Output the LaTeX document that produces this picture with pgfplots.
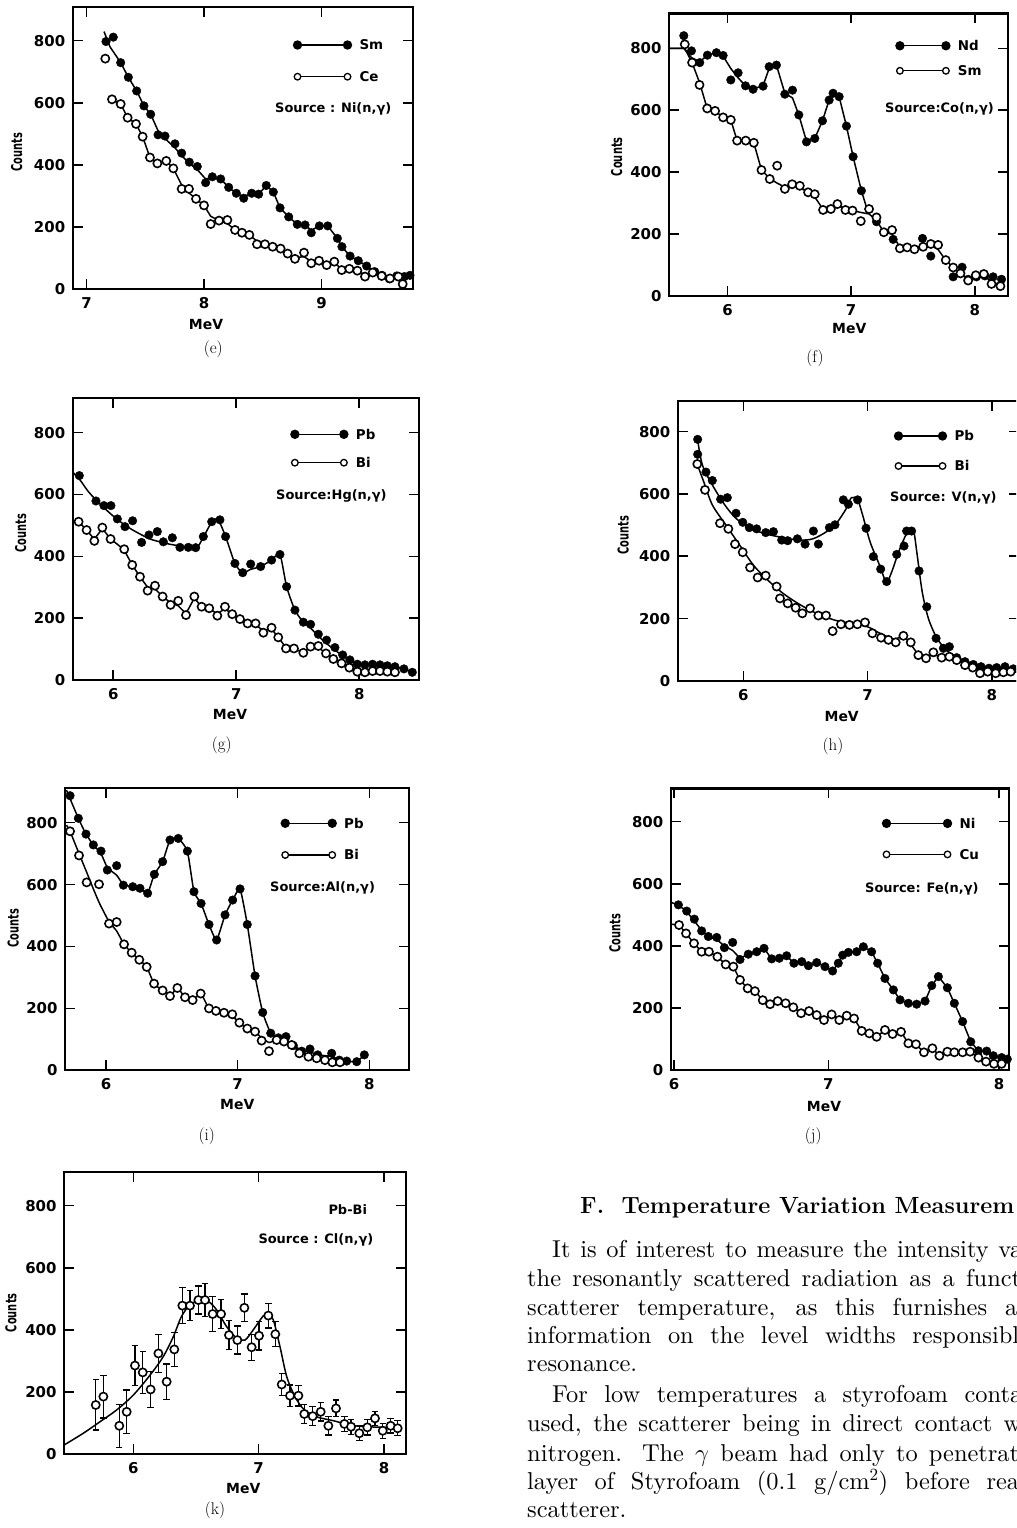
\documentclass[border=0pt]{standalone}
\usepackage{fontspec}
\usepackage{pgfplots}
\pgfplotsset{compat=1.18}
\newfontfamily\pan{DejaVu Sans}
\newfontfamily\pancond{DejaVu Sans}[FakeStretch=0.66]
\newfontfamily\bodyfont{lmroman10-regular.otf}

\tikzset{
  legF/.style={black, line width=1.3bp, mark=*, mark size=4bp},
  legO/.style={black, line width=1.3bp, mark=*, mark size=3.3bp, mark options={fill=white, line width=1.3bp}},
  cnt/.style={rotate=90, font=\fontsize{15}{17}\selectfont\pancond\bfseries},
  mev/.style={font=\fontsize{14}{16}\selectfont\pan\bfseries},
  capt/.style={font=\fontsize{17}{20}\selectfont},
  src/.style={anchor=west, inner sep=0pt, text height=9.5bp, text depth=0bp, font=\fontsize{13}{15}\selectfont\pan\bfseries},
  body/.style={anchor=base west, inner sep=0pt, font=\fontsize{24.5}{29}\selectfont\bodyfont},
}
\pgfplotsset{
  leglen/.initial=50bp,
  legend image code/.code={\draw[#1] plot coordinates {(0bp,0bp) (\pgfkeysvalueof{/pgfplots/leglen},0bp)};},
  panel/.style={
    scale only axis, anchor=south west, ymin=0,
    ytick={0,200,400,600,800},
    axis line style={line width=2.2bp},
    every tick/.style={black, line width=1.6bp},
    major tick length=10bp, tick align=inside,
    /pgf/number format/assume math mode=true,
    tick label style={font=\fontsize{15}{17}\selectfont\pan\bfseries},
    yticklabel style={xshift=-4bp},
    xticklabel style={yshift=-5bp},
    legend style={draw=none, fill=none, inner sep=0pt, outer sep=0pt, anchor=north west,
      cells={anchor=west}, nodes={inner sep=0pt, text height=9.5bp, text depth=0bp},
      font=\fontsize{13.5}{15}\selectfont\pan\bfseries, column sep=8bp},
  },
  ptF/.style={only marks, mark=*, mark size=4.3bp, black, forget plot},
  ptO/.style={only marks, mark=*, mark size=4.1bp, black, mark options={fill=white, line width=1.6bp}, forget plot},
  crv/.style={black, no marks, line width=1.5bp, forget plot},
}

\begin{document}
\begin{tikzpicture}[x=1bp,y=1bp]
\path[use as bounding box] (0,0) rectangle (1016,-1528);
\clip (0,0) rectangle (1016,-1528);

% (e)
\begin{axis}[panel, at={(72.7bp,-289.33bp)}, width=340.6bp, height=282bp,
  xmin=6.8826, xmax=9.7813, ymax=907, xtick={7,8,9}, leglen=50bp,
  legend style={at={(0.6483,0.8832)}, row sep=22.2bp}]
\addplot[crv] coordinates {(7.149,829)(7.20,780)(7.291,729)(7.356,682)(7.427,638)(7.489,590)(7.546,563)(7.609,510)(7.668,485)(7.753,455)(7.81,430)(7.875,405)(7.943,385)(8.014,355)(8.071,360)(8.142,355)(8.21,328)(8.275,309)(8.338,298)(8.406,309)(8.465,306)(8.53,334)(8.59,313)(8.647,262)(8.721,233)(8.794,209)(8.86,207)(8.913,190)(8.982,204)(9.053,204)(9.135,164)(9.174,137)(9.243,107)(9.313,92)(9.384,75)(9.453,57)(9.515,45)(9.577,38)(9.64,41)(9.705,41)(9.781,45)};
\addplot[crv] coordinates {(7.217,611)(7.291,596)(7.35,552)(7.421,532)(7.478,491)(7.54,424)(7.603,405)(7.679,413)(7.739,389)(7.81,335)(7.872,310)(7.932,291)(8.0,270)(8.057,235)(8.128,221)(8.199,212)(8.264,191)(8.323,182)(8.386,175)(8.451,155)(8.519,145)(8.584,137)(8.652,131)(8.712,115)(8.774,102)(8.851,105)(8.913,90)(8.979,88)(9.044,80)(9.109,85)(9.172,66)(9.237,64)(9.305,58)(9.37,48)(9.436,50)(9.512,43)(9.583,38)(9.654,36)(9.72,25)};
\addplot[ptF] coordinates {(7.166,797)(7.228,811)(7.291,729)(7.356,682)(7.427,638)(7.489,590)(7.546,563)(7.609,497)(7.668,493)(7.753,468)(7.810,438)(7.875,409)(7.943,395)(8.014,343)(8.071,362)(8.142,355)(8.210,328)(8.275,309)(8.338,293)(8.406,309)(8.465,306)(8.530,334)(8.590,313)(8.647,262)(8.721,233)(8.794,209)(8.860,207)(8.913,182)(8.982,204)(9.053,204)(9.135,164)(9.174,137)(9.243,107)(9.313,92)(9.384,75)(9.453,57)(9.515,45)(9.577,34)(9.640,43)(9.705,41)(9.753,45)};
\addplot[ptO] coordinates {(7.160,742)(7.217,611)(7.291,596)(7.350,552)(7.421,532)(7.478,491)(7.540,424)(7.603,405)(7.679,413)(7.739,389)(7.810,323)(7.872,323)(7.932,291)(8.000,270)(8.057,210)(8.128,221)(8.199,223)(8.264,191)(8.323,182)(8.386,175)(8.451,145)(8.519,145)(8.584,137)(8.652,131)(8.712,115)(8.774,98)(8.851,118)(8.913,84)(8.979,92)(9.044,78)(9.109,89)(9.172,62)(9.237,66)(9.305,60)(9.370,41)(9.436,54)(9.512,43)(9.583,35)(9.654,41)(9.691,17)};
\addlegendimage{legF}\addlegendentry{Sm}
\addlegendimage{legO}\addlegendentry{Ce}
\end{axis}

% (f)
\begin{axis}[panel, at={(669bp,-296bp)}, width=338.7bp, height=282.6bp,
  xmin=5.5275, xmax=8.266, ymax=913, xtick={6,7,8}, leglen=46bp,
  legend style={at={(0.6699,0.9022)}, row sep=15.5bp}]
\addplot[crv] coordinates {(5.527,800)(5.647,800)(5.709,770)(5.776,757)(5.838,778)(5.911,786)(5.965,775)(6.027,735)(6.086,705)(6.146,679)(6.207,668)(6.288,680)(6.337,735)(6.396,746)(6.464,655)(6.526,640)(6.577,585)(6.639,500)(6.706,509)(6.768,566)(6.822,633)(6.854,655)(6.903,644)(6.962,549)(7.016,450)(7.083,340)(7.14,266)};
\addplot[crv] coordinates {(5.527,800)(5.655,800)(5.714,754)(5.774,690)(5.836,606)(5.9,598)(5.965,577)(6.027,569)(6.078,502)(6.148,502)(6.213,495)(6.275,407)(6.342,380)(6.40,365)(6.464,352)(6.523,356)(6.585,350)(6.652,335)(6.706,320)(6.773,280)(6.836,281)(6.889,297)(6.954,278)(7.011,276)(7.078,270)(7.145,265)(7.205,245)(7.264,206)(7.331,200)(7.394,158)(7.453,157)(7.512,151)(7.582,165)(7.644,165)(7.703,150)(7.765,116)(7.825,92)(7.884,73)(7.946,55)(8.008,60)(8.073,62)(8.135,50)(8.207,32)};
\addplot[ptF] coordinates {(5.647,841)(5.709,792)(5.776,754)(5.838,778)(5.911,786)(5.965,777)(6.027,698)(6.086,721)(6.146,679)(6.207,668)(6.288,678)(6.337,741)(6.396,746)(6.464,652)(6.526,665)(6.577,585)(6.639,498)(6.706,509)(6.768,566)(6.822,633)(6.854,655)(6.903,644)(6.962,549)(7.016,450)(7.083,340)(7.205,240)(7.34,183)(7.577,186)(7.644,129)(7.825,62)(7.897,93)(7.946,54)(8.013,62)(8.081,65)(8.148,62)(8.216,54)};
\addplot[ptO] coordinates {(5.655,813)(5.714,754)(5.774,682)(5.836,606)(5.9,598)(5.965,577)(6.027,569)(6.078,502)(6.148,502)(6.213,495)(6.275,407)(6.342,378)(6.402,421)(6.464,346)(6.523,361)(6.585,356)(6.652,335)(6.706,329)(6.773,278)(6.836,281)(6.889,297)(6.954,278)(7.011,276)(7.078,242)(7.145,281)(7.205,254)(7.264,206)(7.331,213)(7.394,154)(7.453,157)(7.512,151)(7.582,159)(7.644,168)(7.703,165)(7.765,116)(7.825,92)(7.884,73)(7.946,50)(8.008,67)(8.073,71)(8.135,39)(8.207,32)};
\addlegendimage{legF}\addlegendentry{Nd}
\addlegendimage{legO}\addlegendentry{Sm}
\end{axis}

% (g)
\begin{axis}[panel, at={(72.7bp,-680bp)}, width=346.6bp, height=282.3bp,
  xmin=5.670, xmax=8.488, ymax=913, xtick={6,7,8}, leglen=49bp,
  legend style={at={(0.6295,0.8872)}, row sep=18.9bp}]
\addplot[crv, smooth, tension=0.4] coordinates {(5.670,672)(5.724,650)(5.80,608)(5.90,566)(6.03,520)(6.15,487)(6.30,456)(6.45,440)(6.60,430)(6.68,428)(6.732,462)(6.80,510)(6.85,520)(6.913,464)(6.989,377)(7.052,347)(7.117,358)(7.198,367)(7.287,388)(7.355,406)(7.409,302)(7.477,226)(7.545,187)(7.604,168)(7.667,142)(7.734,118)(7.802,97)(7.865,78)(7.924,64)(7.984,54)(8.05,50)(8.15,47)(8.25,44)(8.363,36)(8.431,25)};
\addplot[crv] coordinates {(5.67,515)(5.718,512)(5.783,485)(5.846,455)(5.911,490)(5.978,456)(6.03,440)(6.089,420)(6.154,372)(6.217,334)(6.279,300)(6.339,295)(6.401,270)(6.466,250)(6.528,240)(6.591,215)(6.659,265)(6.718,237)(6.78,230)(6.846,215)(6.908,230)(6.967,213)(7.03,197)(7.092,183)(7.157,178)(7.22,160)(7.287,165)(7.341,138)(7.404,105)(7.469,100)(7.545,90)(7.604,105)(7.667,105)(7.729,86)(7.789,68)(7.856,54)(7.919,42)(7.984,30)(8.046,28)(8.108,28)(8.168,28)(8.228,27)(8.29,25)};
\addplot[ptF] coordinates {(5.724,661)(5.859,579)(5.924,564)(5.981,564)(6.033,521)(6.095,496)(6.157,515)(6.23,445)(6.29,469)(6.358,480)(6.407,447)(6.48,460)(6.542,429)(6.61,429)(6.67,428)(6.732,464)(6.8,512)(6.867,518)(6.913,464)(6.989,377)(7.052,347)(7.117,375)(7.198,367)(7.287,388)(7.355,406)(7.409,302)(7.477,226)(7.545,187)(7.604,180)(7.667,148)(7.734,129)(7.802,105)(7.865,81)(7.924,65)(7.984,51)(8.046,49)(8.108,51)(8.168,49)(8.228,46)(8.29,43)(8.363,36)(8.431,25)};
\addplot[ptO] coordinates {(5.718,512)(5.783,485)(5.846,450)(5.911,493)(5.978,456)(6.089,423)(6.154,372)(6.217,334)(6.279,289)(6.339,305)(6.401,270)(6.466,243)(6.528,256)(6.591,210)(6.659,270)(6.718,237)(6.78,232)(6.846,208)(6.908,237)(6.967,213)(7.03,197)(7.092,183)(7.157,183)(7.22,153)(7.287,169)(7.341,138)(7.404,102)(7.469,102)(7.545,88)(7.604,108)(7.667,110)(7.729,86)(7.789,68)(7.856,54)(7.919,40)(7.984,27)(8.046,25)(8.108,29)(8.168,29)(8.228,27)(8.29,25)};
\addlegendimage{legF}\addlegendentry{Pb}
\addlegendimage{legO}\addlegendentry{Bi}
\end{axis}

% (h)
\begin{axis}[panel, at={(677.7bp,-681bp)}, width=341.3bp, height=280bp,
  xmin=5.4714, xmax=8.220, ymax=898, xtick={6,7,8}, leglen=44bp,
  legend style={at={(0.6352,0.892)}, row sep=20.5bp}]
\addplot[crv, smooth, tension=0.5] coordinates {(5.632,773)(5.67,693)(5.75,629)(5.85,565)(5.94,522)(6.05,490)(6.19,471)(6.32,460)(6.45,452)(6.56,456)(6.67,479)(6.75,506)(6.83,554)(6.87,588)(6.92,581)(6.96,533)(7.02,447)(7.09,378)(7.15,319)(7.19,345)(7.26,424)(7.33,484)(7.37,484)(7.40,404)(7.44,287)(7.49,201)(7.56,137)(7.65,94)(7.80,62)(7.93,46)(8.07,41)(8.22,38)};
\addplot[crv, smooth, tension=0.5] coordinates {(5.62,704)(5.68,640)(5.75,565)(5.86,500)(5.97,436)(6.08,372)(6.19,326)(6.32,281)(6.46,244)(6.59,217)(6.73,196)(6.86,185)(7.0,174)(7.1,153)(7.21,135)(7.29,142)(7.35,116)(7.42,83)(7.50,81)(7.58,81)(7.69,71)(7.80,51)(7.91,35)(8.07,30)(8.22,28)};
\addplot[ptF] coordinates {(5.632,775)(5.632,727)(5.699,670)(5.75,643)(5.817,583)(5.871,588)(5.941,538)(5.995,509)(6.048,492)(6.107,488)(6.18,476)(6.242,479)(6.309,452)(6.357,450)(6.435,456)(6.497,439)(6.564,481)(6.604,439)(6.693,492)(6.738,501)(6.805,581)(6.846,567)(6.92,581)(6.988,490)(7.047,399)(7.106,359)(7.154,319)(7.235,406)(7.294,433)(7.315,481)(7.355,481)(7.415,353)(7.477,238)(7.552,137)(7.611,105)(7.659,110)(7.718,75)(7.785,62)(7.852,53)(7.914,46)(7.978,41)(8.04,43)(8.107,46)(8.174,39)};
\addplot[ptO] coordinates {(5.629,696)(5.691,613)(5.812,506)(5.879,488)(5.933,439)(5.995,413)(6.054,364)(6.115,332)(6.18,338)(6.268,303)(6.295,265)(6.357,249)(6.421,235)(6.475,217)(6.537,233)(6.604,210)(6.666,210)(6.719,160)(6.786,182)(6.854,180)(6.918,182)(6.98,188)(7.039,153)(7.109,139)(7.168,132)(7.227,124)(7.289,145)(7.348,124)(7.409,83)(7.471,73)(7.53,92)(7.597,75)(7.659,78)(7.718,67)(7.785,51)(7.847,43)(7.906,25)(7.968,30)(8.032,25)(8.094,28)(8.153,30)};
\addlegendimage{legF}\addlegendentry{Pb}
\addlegendimage{legO}\addlegendentry{Bi}
\end{axis}

% (i)
\begin{axis}[panel, at={(65bp,-1070.33bp)}, width=344.3bp, height=282.7bp,
  xmin=5.6886, xmax=8.3035, ymax=913, xtick={6,7,8}, leglen=47bp,
  legend style={at={(0.628,0.8908)}, row sep=22.2bp}]
\addplot[crv, smooth, tension=0.3] coordinates {(5.70,905)(5.79,814)(5.848,763)(5.904,728)(5.962,700)(6.01,655)(6.081,630)(6.132,600)(6.203,593)(6.258,588)(6.316,572)(6.367,633)(6.43,674)(6.486,744)(6.549,749)(6.618,708)(6.668,577)(6.722,539)(6.782,471)(6.84,421)(6.904,502)(6.962,550)(7.018,586)(7.073,471)(7.132,305)(7.19,187)(7.251,120)(7.309,105)(7.367,100)(7.423,80)(7.486,65)(7.549,60)(7.608,50)(7.714,45)(7.772,33)(7.828,30)(7.904,28)(7.962,50)};
\addplot[crv, smooth, tension=0.3] coordinates {(5.70,792)(5.727,772)(5.795,700)(5.853,640)(5.90,590)(5.95,540)(6.023,480)(6.081,450)(6.137,407)(6.195,380)(6.253,357)(6.309,334)(6.365,280)(6.43,258)(6.486,240)(6.542,266)(6.6,236)(6.658,227)(6.719,248)(6.782,200)(6.835,192)(6.896,186)(6.959,175)(7.013,154)(7.073,135)(7.132,125)(7.182,105)(7.238,90)(7.296,98)(7.352,93)(7.41,82)(7.468,60)(7.537,44)(7.6,39)(7.663,33)(7.719,30)(7.777,28)};
\addplot[ptF] coordinates {(5.727,887)(5.79,814)(5.848,763)(5.904,728)(5.962,708)(6.01,647)(6.081,661)(6.132,598)(6.203,593)(6.258,588)(6.316,572)(6.367,633)(6.43,674)(6.486,744)(6.549,749)(6.618,708)(6.668,577)(6.722,539)(6.782,471)(6.84,421)(6.904,502)(6.962,550)(7.018,586)(7.073,471)(7.132,305)(7.19,187)(7.251,120)(7.309,105)(7.367,109)(7.423,80)(7.486,62)(7.549,69)(7.608,50)(7.714,55)(7.772,33)(7.828,30)(7.904,28)(7.962,50)};
\addplot[ptO] coordinates {(5.727,772)(5.795,694)(5.853,607)(5.947,601)(6.023,474)(6.081,479)(6.137,407)(6.195,380)(6.253,357)(6.309,334)(6.365,280)(6.43,258)(6.486,240)(6.542,266)(6.6,236)(6.658,227)(6.719,248)(6.782,200)(6.835,192)(6.896,186)(6.959,181)(7.013,154)(7.073,135)(7.132,125)(7.182,96)(7.238,62)(7.296,98)(7.352,93)(7.41,82)(7.468,55)(7.537,44)(7.6,39)(7.663,33)(7.719,26)(7.777,26)};
\addlegendimage{legF}\addlegendentry{Pb}
\addlegendimage{legO}\addlegendentry{Bi}
\end{axis}

% (j)
\begin{axis}[panel, at={(670.7bp,-1070bp)}, width=338.6bp, height=281.6bp,
  xmin=5.9797, xmax=8.0634, ymax=907, xtick={6,6.95,8}, xticklabels={6,7,8}, leglen=61bp,
  legend style={at={(0.6255,0.8926)}, row sep=21.5bp}]
\addplot[crv] coordinates {(5.98,540)(6.027,532)(6.078,510)(6.125,480)(6.17,450)(6.211,430)(6.263,420)(6.31,400)(6.361,385)(6.406,360)(6.457,373)(6.509,381)(6.554,392)(6.601,358)(6.648,360)(6.693,368)(6.738,344)(6.786,349)(6.827,336)(6.878,346)(6.929,333)(6.976,319)(7.011,344)(7.038,370)(7.073,379)(7.124,381)(7.165,397)(7.216,381)(7.253,344)(7.298,295)(7.35,258)(7.391,226)(7.442,215)(7.493,212)(7.545,222)(7.586,272)(7.627,301)(7.682,265)(7.725,215)(7.776,156)(7.826,91)(7.873,62)(7.924,61)(7.965,46)(8.016,40)(8.063,35)};
\addplot[crv] coordinates {(5.98,470)(6.031,467)(6.074,440)(6.123,408)(6.17,381)(6.215,381)(6.267,365)(6.318,340)(6.365,333)(6.406,290)(6.453,263)(6.498,254)(6.546,225)(6.591,212)(6.638,222)(6.687,215)(6.734,202)(6.782,183)(6.831,190)(6.878,177)(6.923,161)(6.97,179)(7.017,161)(7.063,175)(7.108,166)(7.155,126)(7.202,118)(7.247,107)(7.298,129)(7.345,116)(7.397,123)(7.442,86)(7.489,83)(7.538,57)(7.59,70)(7.633,46)(7.682,59)(7.725,57)(7.776,57)(7.822,59)(7.873,40)(7.92,27)(7.969,20)(8.016,20)};
\addplot[ptF] coordinates {(6.027,532)(6.078,512)(6.125,486)(6.17,448)(6.211,430)(6.263,427)(6.31,394)(6.361,411)(6.406,356)(6.457,373)(6.509,381)(6.554,392)(6.601,358)(6.648,360)(6.693,368)(6.738,344)(6.786,349)(6.827,336)(6.878,346)(6.929,333)(6.976,319)(7.011,344)(7.038,370)(7.073,379)(7.124,381)(7.165,397)(7.216,381)(7.253,344)(7.298,295)(7.35,258)(7.391,226)(7.442,215)(7.493,212)(7.545,222)(7.586,272)(7.627,301)(7.682,265)(7.725,215)(7.776,156)(7.826,91)(7.873,62)(7.924,61)(7.965,46)(8.016,40)(8.051,35)};
\addplot[ptO] coordinates {(6.031,467)(6.074,440)(6.123,408)(6.17,381)(6.215,381)(6.267,365)(6.318,340)(6.365,333)(6.406,290)(6.453,263)(6.498,254)(6.546,225)(6.591,212)(6.638,222)(6.687,215)(6.734,202)(6.782,183)(6.831,190)(6.878,177)(6.923,161)(6.97,179)(7.017,161)(7.063,175)(7.108,166)(7.155,126)(7.202,118)(7.247,107)(7.298,129)(7.345,116)(7.397,123)(7.442,86)(7.489,83)(7.538,57)(7.59,70)(7.633,46)(7.682,59)(7.725,57)(7.776,57)(7.822,59)(7.873,40)(7.92,27)(7.969,20)(8.016,20)};
\addlegendimage{legF}\addlegendentry{Ni}
\addlegendimage{legO}\addlegendentry{Cu}
\end{axis}

% (k)
\begin{axis}[panel, at={(64bp,-1454bp)}, width=342bp, height=282.2bp,
  xmin=5.4468, xmax=8.1756, ymax=909, xtick={6,7,8}]
\addplot[crv, smooth, tension=0.5] coordinates {(5.447,29)(5.601,67)(5.734,104)(5.867,142)(6.0,190)(6.133,254)(6.239,314)(6.319,378)(6.383,442)(6.45,480)(6.53,496)(6.6,491)(6.665,464)(6.745,410)(6.825,373)(6.89,367)(6.957,400)(7.037,445)(7.077,448)(7.117,432)(7.17,346)(7.224,249)(7.29,185)(7.36,144)(7.46,120)(7.6,107)(7.73,93)(7.86,88)(7.995,86)(8.115,83)};
\addplot[ptO, error bars/.cd, y dir=both, y explicit,
  error bar style={line width=1.3bp, black},
  error mark options={rotate=90, mark size=3.2bp, line width=1.3bp, black}]
 coordinates {(5.700,158) +- (0,81) (5.761,185) +- (0,69) (5.888,91) +- (0,69) (5.947,136) +- (0,70)
 (6.013,285) +- (0,64) (6.075,263) +- (0,68) (6.138,208) +- (0,57) (6.200,324) +- (0,62)
 (6.266,233) +- (0,57) (6.327,337) +- (0,54) (6.391,478) +- (0,58) (6.452,478) +- (0,48)
 (6.519,496) +- (0,45) (6.572,496) +- (0,54) (6.633,451) +- (0,56) (6.700,451) +- (0,47)
 (6.763,383) +- (0,46) (6.830,367) +- (0,45) (6.886,471) +- (0,44) (6.944,344) +- (0,42)
 (7.003,381) +- (0,46) (7.077,446) +- (0,40) (7.133,386) +- (0,40) (7.184,224) +- (0,35)
 (7.250,188) +- (0,34) (7.317,188) +- (0,33) (7.364,129) +- (0,30) (7.431,122) +- (0,30)
 (7.495,136) +- (0,30) (7.556,91) +- (0,30) (7.617,147) +- (0,27) (7.684,97) +- (0,25)
 (7.737,88) +- (0,24) (7.803,67) +- (0,24) (7.867,86) +- (0,25) (7.928,115) +- (0,22)
 (7.990,75) +- (0,24) (8.053,91) +- (0,23) (8.109,83) +- (0,24)};
\end{axis}

% axis titles, sources and captions
\node[cnt] at (16.7,-152) {Counts};
\node[cnt] at (616.7,-156.7) {Counts};
\node[cnt] at (20.7,-533) {Counts};
\node[cnt] at (623.3,-535) {Counts};
\node[cnt] at (13.3,-928) {Counts};
\node[cnt] at (615,-933) {Counts};
\node[cnt] at (11,-1312.7) {Counts};
\node[mev] at (206,-325) {MeV};
\node[mev] at (849.3,-328.3) {MeV};
\node[mev] at (230,-715) {MeV};
\node[mev] at (841.7,-716.7) {MeV};
\node[mev] at (237.3,-1105) {MeV};
\node[mev] at (824,-1106.7) {MeV};
\node[mev] at (243.3,-1488.3) {MeV};
\node[src] at (275,-107.7) {Source : Ni(n,γ)};
\node[src] at (885,-108) {Source:Co(n,γ)};
\node[src] at (276,-495) {Source:Hg(n,γ)};
\node[src] at (890,-497) {Source: V(n,γ)};
\node[src] at (270,-887) {Source:Al(n,γ)};
\node[src] at (865,-888) {Source: Fe(n,γ)};
\node[src] at (328.3,-1209.3) {Pb-Bi};
\node[src] at (258.3,-1239) {Source : Cl(n,γ)};
\node[capt] at (213.3,-349.3) {(e)};
\node[capt] at (815,-358) {(f)};
\node[capt] at (221.7,-745) {(g)};
\node[capt] at (833,-746) {(h)};
\node[capt] at (206.7,-1136.7) {(i)};
\node[capt] at (813.3,-1136.7) {(j)};
\node[capt] at (215,-1510) {(k)};

% text column
\node[anchor=base west, inner sep=0pt, font=\fontsize{23.5}{28}\selectfont\bfseries] at (580,-1213.3) {F.\ \ Temperature Variation Measurem};
\node[body] at (552,-1257.3) {\makebox[470bp][s]{It is of interest to measure the intensity va}};
\node[body] at (527,-1286) {\makebox[494bp][s]{the resonantly scattered radiation as a funct}};
\node[body] at (527,-1315) {\makebox[490bp][s]{scatterer temperature, as this furnishes a}};
\node[body] at (527,-1343.3) {\makebox[492bp][s]{information on the level widths responsibl}};
\node[body] at (527,-1371.7) {resonance.};
\node[body] at (552,-1402.7) {\makebox[470bp][s]{For low temperatures a styrofoam conta}};
\node[body] at (527,-1431.7) {\makebox[494bp][s]{used, the scatterer being in direct contact w}};
\node[body] at (527,-1461) {\makebox[492bp][s]{nitrogen. The $\gamma$ beam had only to penetrat}};
\node[body] at (527,-1489.3) {\makebox[492bp][s]{layer of Styrofoam (0.1 g/cm\textsuperscript{2}) before rea}};
\node[body] at (527,-1517.7) {scatterer.};
\end{tikzpicture}
\end{document}
